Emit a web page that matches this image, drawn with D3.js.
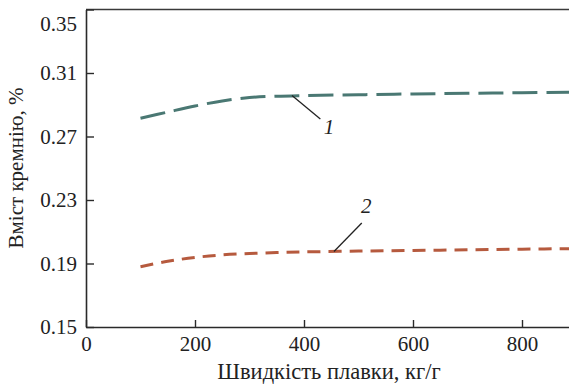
<!DOCTYPE html>
<html><head><meta charset="utf-8">
<script src="https://cdn.jsdelivr.net/npm/d3@7"></script>
<style>
html,body{margin:0;padding:0;background:#fff;}
svg{display:block;font-family:"Liberation Serif","Times New Roman",serif;}
</style></head>
<body>
<svg id="chart" width="569" height="385"></svg>
<script>
// Data
const speed = [100, 150, 200, 250, 300, 350, 400, 500, 600, 700, 800, 900];
const silicon1 = [0.2815, 0.2854, 0.2892, 0.2924, 0.2945, 0.2954, 0.2958, 0.2963, 0.2968, 0.2972, 0.2976, 0.2980];
const silicon2 = [0.1880, 0.1914, 0.1938, 0.1954, 0.1963, 0.1969, 0.1973, 0.1978, 0.1982, 0.1986, 0.1990, 0.1994];
const xTicks = [0, 200, 400, 600, 800];
const yTicks = [0.15, 0.19, 0.23, 0.27, 0.31, 0.35];
const xTitle = "Швидкість плавки, кг/г";
const yTitle = "Вміст кремнію, %";
const seriesLabels = ["1", "2"];

const svg = d3.select("#chart");
const mLeft = 86, mBottom = 327, mTop = 9.5;
const x = d3.scaleLinear().domain([0, 900]).range([mLeft, mLeft + 109 * 4.5]);
const y = d3.scaleLinear().domain([0.15, 0.35]).range([mBottom, mTop]);

// top frame line
svg.append("line").attr("x1", mLeft).attr("x2", 569).attr("y1", y(0.35)).attr("y2", y(0.35))
  .attr("stroke", "#3a3a3a").attr("stroke-width", 1.6);

const xAxis = svg.append("g").attr("transform", `translate(0,${mBottom})`)
  .call(d3.axisBottom(x).tickValues(xTicks).tickSizeInner(-7).tickSizeOuter(0).tickPadding(9).tickFormat(d3.format("d")));
const yAxis = svg.append("g").attr("transform", `translate(${mLeft},0)`)
  .call(d3.axisLeft(y).tickValues(yTicks).tickSizeInner(-8).tickSizeOuter(0).tickPadding(9).tickFormat(d3.format(".2f")));

[xAxis, yAxis].forEach(g => {
  g.select(".domain").attr("stroke", "#2a2a2a").attr("stroke-width", 1.6);
  g.selectAll(".tick line").attr("stroke", "#2a2a2a").attr("stroke-width", 1.4);
  g.selectAll(".tick text").attr("fill", "#222").style("font-size", "21px").style("font-family", "Liberation Serif");
});
yAxis.selectAll(".tick text").filter(d => d === 0.35).attr("dy", "1.0em");

const line = d3.line().x((d, i) => x(speed[i])).y(d => y(d)).curve(d3.curveCatmullRom.alpha(0.5));

svg.append("path").datum(silicon1).attr("d", line).attr("fill", "none")
  .attr("stroke", "#4a7873").attr("stroke-width", 3).attr("stroke-dasharray", "25,9");
svg.append("path").datum(silicon2).attr("d", line).attr("fill", "none")
  .attr("stroke", "#b65a3e").attr("stroke-width", 3).attr("stroke-dasharray", "13,8");

// leader lines and labels
svg.append("line").attr("x1", x(378)).attr("y1", y(silicon1[6]) ).attr("x2", x(430)).attr("y2", y(0.2810))
  .attr("stroke", "#222").attr("stroke-width", 1.3);
svg.append("text").attr("x", x(446)).attr("y", y(0.2716)).attr("text-anchor", "middle")
  .style("font-size", "21px").style("font-style", "italic").attr("fill", "#222").text(seriesLabels[0]);

svg.append("line").attr("x1", x(455)).attr("y1", y(0.1976)).attr("x2", x(506)).attr("y2", y(0.2155))
  .attr("stroke", "#222").attr("stroke-width", 1.3);
svg.append("text").attr("x", x(514)).attr("y", y(0.2215)).attr("text-anchor", "middle")
  .style("font-size", "21px").style("font-style", "italic").attr("fill", "#222").text(seriesLabels[1]);

// titles
svg.append("text").attr("x", 329).attr("y", 379).attr("text-anchor", "middle")
  .style("font-size", "22.5px").attr("fill", "#222").text(xTitle);
svg.append("text").attr("transform", "translate(23,168) rotate(-90)").attr("text-anchor", "middle")
  .style("font-size", "21px").attr("fill", "#222").text(yTitle);
</script>
</body></html>
